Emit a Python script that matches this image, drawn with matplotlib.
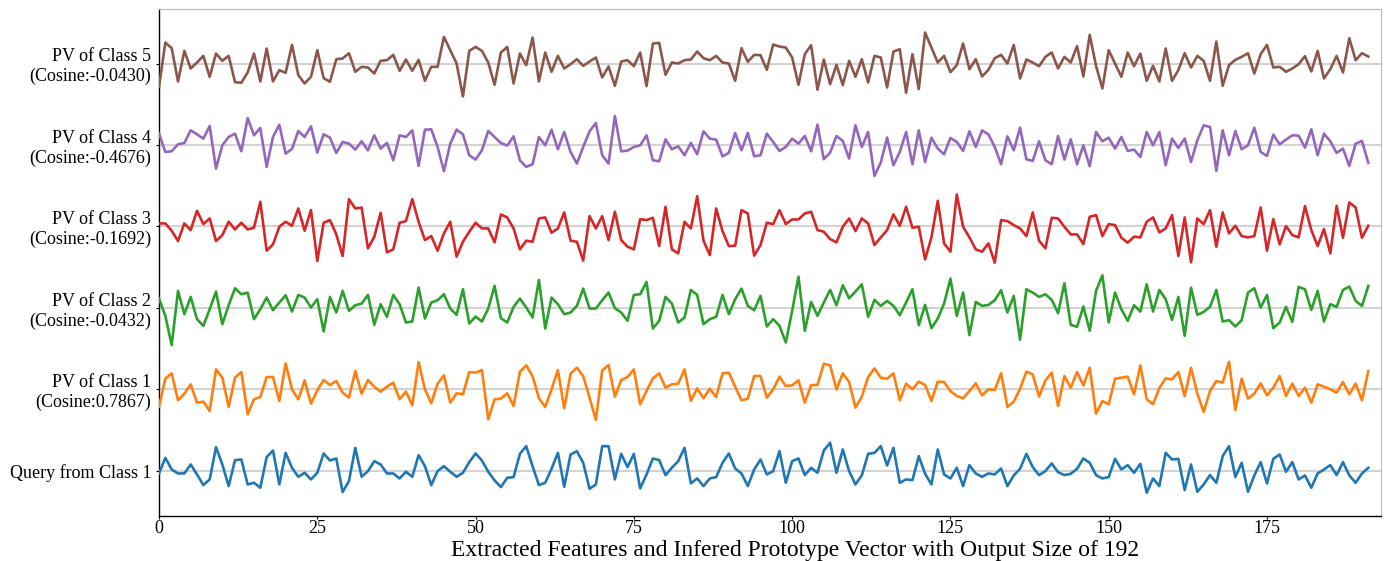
import numpy as np
import matplotlib
matplotlib.use("Agg")
import matplotlib.pyplot as plt

# ---- data (feature values, arbitrary units) ----
query = [-8, 39, 4, -8, -8, 19, -11, -43, -26, 71, 19, -46, 32, 34, -41, -36, -51, 41, 61, -41, 54, 9, -18, -6, -26, -6, 52, 31, 37, -64, -31, 69,
         -18, -1, 29, 19, -8, -8, -23, -3, -18, 47, 14, -43, -1, 14, -3, -18, -6, 26, 52, 31, -3, -29, -49, -21, -19, 51, 74, 14, -43, -36, 6, 54,
         -48, 49, 59, 24, -54, -41, 74, 74, -26, 51, 11, 51, -53, -11, 37, 32, -13, 9, 29, 69, -38, -23, -46, -23, -19, 24, 52, 7, -8, -46, 4, 34,
         -11, -1, 59, -36, 29, 37, -13, 9, -6, 61, 84, -6, 64, -1, -41, -14, 51, 54, 74, 16, 69, -36, -26, -28, 44, -9, -41, 64, -11, -23, 9,
         -46, 17, -8, -18, -8, -11, 7, -46, -14, 6, 51, 11, -13, -1, 22, -4, -13, -9, 6, 37, 24, -13, -23, -19, 36, 4, 17, -6, 21, -66, -23, -46,
         54, 34, 36, -58, 19, -63, -41, -13, -36, 44, 74, -19, 24, -63, -14, 26, -38, 36, 49, -3, 26, -26, -14, -51, -8, 4, 17, -13, 26, -14, -36, -8, 9]

pv_class1 = [-52, 32, 48, -33, -13, 15, -40, -37, -65, 60, 35, -53, 35, 52, -75, -30, -23, 37, 37, -35, 78, 0, -30, 27, -43, -3, 28, 13, 25, -10, -25, 55,
             -13, 28, 8, -7, 8, 20, -30, -7, -48, 82, 0, -42, 17, 42, -40, -12, -15, 52, 50, 58, -90, -30, -28, -12, -50, 53, 72, 40, -27, -53, 0, 58,
             -57, 47, 65, 40, -25, -92, 57, 73, -22, 28, 37, 60, -45, -5, 33, 48, 5, 15, 17, 60, -35, 3, -27, 2, -23, 48, 50, 8, -33, -28, 40, 40,
             -25, 0, 38, 10, 12, 27, -40, 13, 13, 77, 72, 0, 48, 22, -55, -22, 37, 63, 35, 32, 48, -33, 17, 0, 23, 13, -35, 23, 22, -5, -20,
             -27, -5, 18, -18, 0, -2, 48, -53, -37, 2, 53, 45, -22, 27, 50, -50, 40, 5, 52, 12, 65, -73, -35, -45, 32, 35, 38, -15, 72, -30, -45, 4,
             33, 30, 52, -20, 65, -13, -68, -5, 25, 20, 83, -62, 32, -28, -13, 18, -18, 5, 40, -20, 17, -20, 5, -40, 15, 8, 0, -10, 22, -15, 17, -33, 55]

pv_class2 = [28, -24, -112, 51, -19, 33, -34, -54, -4, 49, -49, 8, 59, 41, 46, -34, -4, 31, -7, 16, 38, -11, 39, 31, 1, 26, -71, 33, -14, 51, -9, 8,
             13, 39, -51, 11, -27, 39, 11, -44, -41, 61, -32, 16, 23, 41, -2, -21, 56, -47, -26, -41, -2, 66, -31, -44, 3, 28, 1, -29, 84, -62, 31, 11,
             -19, -14, 6, 58, -2, -2, 23, 46, -1, -14, -39, 39, 41, 78, -62, -39, 33, 13, -44, -29, 54, 39, -49, -34, -27, 39, -19, 26, 58, 6, -7, 36,
             -56, -34, -54, -104, -9, 94, -69, 18, -24, 16, 54, 8, 68, 29, 49, 71, -27, 24, 6, 21, 6, -22, 16, 56, -52, 9, -61, -32, 13, 88, -24,
             46, -82, 18, 6, 9, 23, 53, -14, 36, -96, 56, 46, 33, 41, 24, -16, 74, -51, -57, 4, -69, 51, 98, -44, 46, -4, -39, 8, -11, 71, -11, 54,
             26, -36, 33, -84, 61, -21, -12, 3, 54, -41, -37, -56, -37, 46, 59, 1, 39, -61, -44, 3, -42, 63, 56, -6, 51, -41, 11, 3, 54, 64, 21, 6, 66]

pv_class3 = [9, 9, -13, -44, 9, -11, 47, 7, 24, -44, -26, 14, -9, 11, -9, -4, 74, -73, -54, -1, 14, 2, 54, -13, 49, -104, 11, 19, -24, -89, 82, 54,
             57, -66, -31, 41, -78, -69, 11, 16, 82, 14, -41, -29, -73, -21, 14, -91, -46, -16, 11, -6, -6, -48, 36, 27, -6, -69, -43, -46, 24, 27, -19, -6,
             42, -43, -46, -103, 31, -6, 31, -41, 44, -41, -61, -69, 22, 19, 26, -59, 59, -69, -81, 14, -6, 91, -43, -86, 54, -14, -59, -58, 49, 39, -88, -56,
             11, 7, 49, 7, 21, 21, 39, 44, -11, -16, -38, -48, -1, 24, -14, 24, 9, -56, -33, -11, 36, 2, 59, -4, -1, -99, -33, 77, -51, -76, 96,
             -1, -33, -69, -76, -51, -109, 19, 16, 4, -6, -29, 42, -43, -66, 26, 24, -1, -24, -24, -53, 29, 34, -29, 7, 4, -34, -49, -31, -33, 14, 27, -18,
             -6, 34, -89, 27, -108, 24, 7, 49, -61, 42, -21, 2, -29, -33, -29, 57, -73, 22, -54, 1, -26, -33, 61, -11, -59, -8, -81, 62, -34, 72, 57, -34, 2]

pv_class4 = [34, -21, -19, 2, 6, 44, 32, 19, 57, -71, -1, 24, 34, -19, 81, 29, 51, -66, 24, 61, -26, -12, 42, 24, 56, -23, 32, 22, -24, 9, 4, -14,
             11, -16, 29, -11, 6, -46, 29, 24, 44, -63, 46, 47, -6, -79, 4, 46, 32, -31, -44, -16, 42, 24, 6, -2, 26, -46, -66, -58, 24, -1, 46, -13,
             39, -21, -56, -6, 41, 66, -31, -56, 87, -19, -17, -6, -1, 29, -46, -49, 17, -13, -4, -31, 6, -28, 41, 19, 16, -34, -24, 36, -16, 36, -34, -31,
             34, 9, -18, -6, 19, 4, 27, -19, 61, -43, -23, 27, 12, -41, 59, -6, 39, -93, -53, 22, -61, -21, 39, -58, 44, -51, 22, -11, -28, 21, 9,
             -18, 41, -6, 44, 32, -6, -58, 26, -16, 52, -43, -48, 11, -46, -58, 27, -44, 17, -58, -1, -64, 39, 11, 22, -11, 24, -18, -14, -36, 39, -1, 39,
             -61, 19, -9, 19, -51, 14, 59, 54, -78, 44, -31, 42, -13, -1, 52, -21, -33, 31, 2, 16, 29, 28, -8, 47, -31, 34, 11, -24, -11, -63, 4, 12, -54]

pv_class5 = [-70, 63, 46, -54, 38, -15, 3, 23, -40, 30, 8, 23, -56, -58, -27, 30, -54, 45, -54, -20, -28, 56, -35, -60, -40, 40, -44, -55, 13, 15, 31, -25,
             -10, -12, -30, 8, 10, 26, -22, 12, -22, 11, -52, -10, -10, 80, 40, 0, -99, 38, 50, 38, 3, -64, 33, 50, -60, 30, -5, 78, -54, 33, -25, 23,
             -15, -2, 13, -7, 6, 18, -42, -9, -67, 6, 10, -8, 33, -68, 60, 62, -34, 3, 0, 10, 12, 36, 16, 10, 23, 3, 0, -52, 46, 5, 26, 25,
             -19, 57, 51, 48, 18, -64, 28, 55, -79, 12, -62, -4, -65, 8, -40, 13, -57, 23, 18, -72, 36, 43, -88, 28, -77, 93, 48, 3, 23, -26, -5,
             60, -17, 13, -39, -19, 16, 26, 0, 56, -45, 12, 3, -8, 20, 33, -15, 20, 3, 52, -39, 86, -7, -75, 40, 0, -40, 33, -8, 30, -52, -7,
             -54, 45, -52, -20, 31, -12, 23, 8, -52, 66, -67, -5, 11, 20, 31, -30, 28, 56, -12, -10, -25, -15, -2, 22, -24, 38, -45, -17, 23, -27, 76, 10, 31, 21]

series_labels = ["Query from Class 1",
                 "PV of Class 1\n(Cosine:0.7867)",
                 "PV of Class 2\n(Cosine:-0.0432)",
                 "PV of Class 3\n(Cosine:-0.1692)",
                 "PV of Class 4\n(Cosine:-0.4676)",
                 "PV of Class 5\n(Cosine:-0.0430)"]
x_ticks = [0, 25, 50, 75, 100, 125, 150, 175]
x_label = "Extracted Features and Infered Prototype Vector with Output Size of 192"

# ---- style ----
plt.rcParams['font.family'] = ['Liberation Serif', 'DejaVu Serif']
colors = ['#1f77b4', '#ff7f0e', '#2ca02c', '#d62728', '#9467bd', '#8c564b']
spacing = 245

fig = plt.figure(figsize=(13.84, 5.61), dpi=100)
ax = fig.add_axes([0.1149, 0.0802, 0.9978 - 0.1149, 0.9834 - 0.0802])

all_series = [query, pv_class1, pv_class2, pv_class3, pv_class4, pv_class5]
offsets = [k * spacing for k in range(len(all_series))]
for vals, off, c in zip(all_series, offsets, colors):
    v = np.asarray(vals, dtype=float)
    ax.plot(np.arange(len(v)), v + off, color=c, lw=1.9, zorder=3)

ax.set_yticks(offsets)
ax.set_yticklabels(series_labels, fontsize=13)
ax.set_xticks(x_ticks)
ax.tick_params(axis='x', labelsize=13, length=2.5, pad=0.5)
ax.tick_params(axis='y', length=2)
ax.grid(axis='y', color='#d3d3d3', lw=1.5, zorder=0)
ax.set_xlim(0, 193)
ax.set_ylim(-136, 1388)
ax.set_xlabel(x_label, fontsize=17)
ax.xaxis.label.set_va('baseline')
ax.xaxis.set_label_coords(0.5205, -0.079)

for s in ['top', 'right']:
    ax.spines[s].set_color('#bbbbbb')
    ax.spines[s].set_linewidth(0.8)
for s in ['left', 'bottom']:
    ax.spines[s].set_color('black')
    ax.spines[s].set_linewidth(1.0)

fig.savefig('out.png', dpi=100)
